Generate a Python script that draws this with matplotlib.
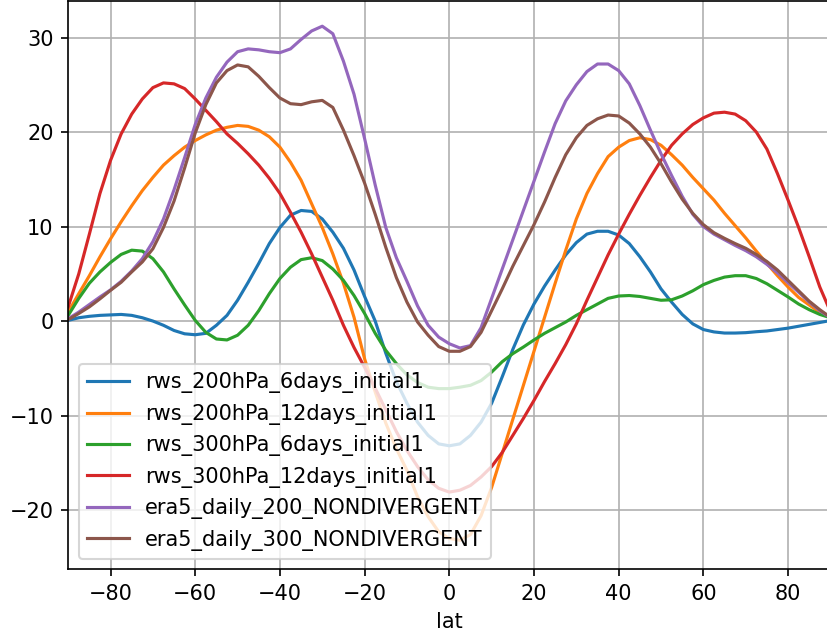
import matplotlib
matplotlib.use("Agg")
import matplotlib.pyplot as plt

lat = [-90, -87.5, -85, -82.5, -80, -77.5, -75, -72.5, -70, -67.5, -65, -62.5, -60, -57.5, -55,
       -52.5, -50, -47.5, -45, -42.5, -40, -37.5, -35, -32.5, -30, -27.5, -25, -22.5, -20, -17.5,
       -15, -12.5, -10, -7.5, -5, -2.5, 0, 2.5, 5, 7.5, 10, 12.5, 15, 17.5, 20, 22.5, 25, 27.5,
       30, 32.5, 35, 37.5, 40, 42.5, 45, 47.5, 50, 52.5, 55, 57.5, 60, 62.5, 65, 67.5, 70, 72.5,
       75, 77.5, 80, 82.5, 85, 87.5, 90]

rws_200hPa_6days = [0.07, 0.35, 0.5, 0.6, 0.65, 0.7, 0.6, 0.35, 0.0, -0.45, -1.0, -1.35, -1.45,
                    -1.3, -0.45, 0.6, 2.2, 4.1, 6.1, 8.2, 9.9, 11.2, 11.7, 11.6, 10.8, 9.4, 7.7,
                    5.4, 2.6, 0.0, -3.4, -6.4, -8.7, -10.7, -12.1, -13.0, -13.2, -13.0, -12.1,
                    -10.7, -8.7, -5.9, -3.0, -0.4, 1.8, 3.7, 5.4, 7.0, 8.3, 9.2, 9.5, 9.5, 9.1,
                    8.2, 6.8, 5.2, 3.4, 2.0, 0.7, -0.3, -0.9, -1.15, -1.27, -1.27, -1.23, -1.13,
                    -1.05, -0.9, -0.75, -0.55, -0.35, -0.15, 0.05]
rws_200hPa_12days = [0.95, 2.9, 4.8, 6.8, 8.7, 10.5, 12.2, 13.8, 15.2, 16.5, 17.5, 18.4, 19.1,
                     19.7, 20.2, 20.5, 20.7, 20.6, 20.2, 19.5, 18.4, 16.8, 14.9, 12.4, 9.9, 7.1,
                     4.0, 0.4, -4.0, -7.5, -10.8, -13.5, -15.8, -18.6, -20.7, -22.3, -23.0, -23.2,
                     -22.6, -20.6, -17.6, -14.0, -10.4, -6.8, -3.2, 0.4, 4.0, 7.5, 10.8, 13.5,
                     15.6, 17.4, 18.4, 19.1, 19.4, 19.2, 18.6, 17.6, 16.5, 15.2, 14.0, 12.8, 11.4,
                     10.1, 8.8, 7.4, 6.1, 4.8, 3.6, 2.5, 1.7, 0.9, 0.5]
rws_300hPa_6days = [0.6, 2.4, 4.0, 5.2, 6.2, 7.05, 7.5, 7.4, 6.6, 5.2, 3.4, 1.7, 0.07, -1.2, -1.9,
                    -2.0, -1.5, -0.45, 1.1, 2.9, 4.5, 5.7, 6.5, 6.7, 6.4, 5.5, 4.3, 2.7, 0.8, -1.3,
                    -3.1, -4.5, -5.7, -6.5, -7.0, -7.15, -7.15, -7.0, -6.8, -6.3, -5.4, -4.3,
                    -3.45, -2.75, -2.0, -1.3, -0.7, -0.1, 0.6, 1.2, 1.8, 2.4, 2.65, 2.7, 2.6, 2.4,
                    2.2, 2.25, 2.65, 3.2, 3.85, 4.3, 4.65, 4.8, 4.8, 4.5, 3.95, 3.25, 2.55, 1.8,
                    1.2, 0.7, 0.35]
rws_300hPa_12days = [1.5, 5.0, 9.2, 13.5, 17.0, 19.8, 21.9, 23.5, 24.7, 25.2, 25.1, 24.6, 23.5,
                     22.3, 21.1, 19.8, 18.8, 17.7, 16.5, 15.1, 13.5, 11.5, 9.4, 7.1, 4.65, 2.2,
                     -0.45, -2.8, -4.9, -7.1, -9.4, -11.7, -13.7, -15.4, -16.8, -17.7, -18.1,
                     -17.9, -17.4, -16.5, -15.4, -13.9, -12.1, -10.3, -8.4, -6.4, -4.5, -2.5,
                     -0.3, 2.2, 4.6, 7.0, 9.2, 11.3, 13.3, 15.2, 17.0, 18.6, 19.8, 20.8, 21.5,
                     22.0, 22.1, 21.9, 21.2, 20.0, 18.2, 15.6, 12.8, 9.9, 6.8, 3.6, 1.0]
era5_200 = [0.25, 0.95, 1.75, 2.55, 3.3, 4.2, 5.3, 6.6, 8.4, 10.8, 13.9, 17.3, 20.8, 23.6, 25.8,
            27.4, 28.5, 28.8, 28.7, 28.5, 28.4, 28.8, 29.8, 30.7, 31.2, 30.4, 27.5, 24.0, 19.3,
            14.4, 9.9, 6.7, 4.2, 1.6, -0.45, -1.7, -2.4, -2.85, -2.6, -0.7, 2.4, 5.5, 8.6,
            11.7, 14.8, 17.9, 20.9, 23.3, 25.0, 26.4, 27.2, 27.2, 26.5, 25.1, 22.8, 20.2,
            17.7, 15.4, 13.2, 11.3, 10.0, 9.2, 8.6, 8.0, 7.45, 6.8, 6.0, 5.1, 4.05, 3.05, 2.0,
            1.1, 0.35]
era5_300 = [0.15, 0.8, 1.5, 2.35, 3.25, 4.1, 5.2, 6.25, 7.65, 9.9, 12.7, 16.2, 19.9, 22.9, 25.2,
            26.5, 27.1, 26.9, 25.9, 24.7, 23.6, 23.0, 22.9, 23.2, 23.35, 22.6, 20.2, 17.5, 14.6,
            11.3, 7.8, 4.6, 2.0, -0.1, -1.5, -2.7, -3.2, -3.2, -2.7, -1.2, 1.1, 3.4, 5.8, 8.0,
            10.2, 12.6, 15.2, 17.6, 19.4, 20.7, 21.4, 21.8, 21.7, 20.95, 19.8, 18.4, 16.65,
            14.7, 12.9, 11.4, 10.2, 9.35, 8.75, 8.2, 7.7, 7.05, 6.3, 5.4, 4.3, 3.2, 2.1, 1.2,
            0.4]

series = [
    ("rws_200hPa_6days_initial1", rws_200hPa_6days),
    ("rws_200hPa_12days_initial1", rws_200hPa_12days),
    ("rws_300hPa_6days_initial1", rws_300hPa_6days),
    ("rws_300hPa_12days_initial1", rws_300hPa_12days),
    ("era5_daily_200_NONDIVERGENT", era5_200),
    ("era5_daily_300_NONDIVERGENT", era5_300),
]

W, H, DPI = 827, 637, 150
fig = plt.figure(figsize=(W / DPI, H / DPI), dpi=DPI)
ax = fig.add_axes([68.2 / W, 1 - 569.3 / H, (830.4 - 68.2) / W, (569.3 - 0.5) / H])
for name, vals in series:
    ax.plot(lat, vals, label=name)
ax.set_xlim(-90, 90)
ax.set_ylim(-26.27, 33.92)
ax.set_xticks([-80, -60, -40, -20, 0, 20, 40, 60, 80])
ax.set_yticks([-20, -10, 0, 10, 20, 30])
ax.grid(True)
ax.set_xlabel("lat")
ax.legend(loc="lower left")
fig.savefig("out.png", dpi=DPI)
